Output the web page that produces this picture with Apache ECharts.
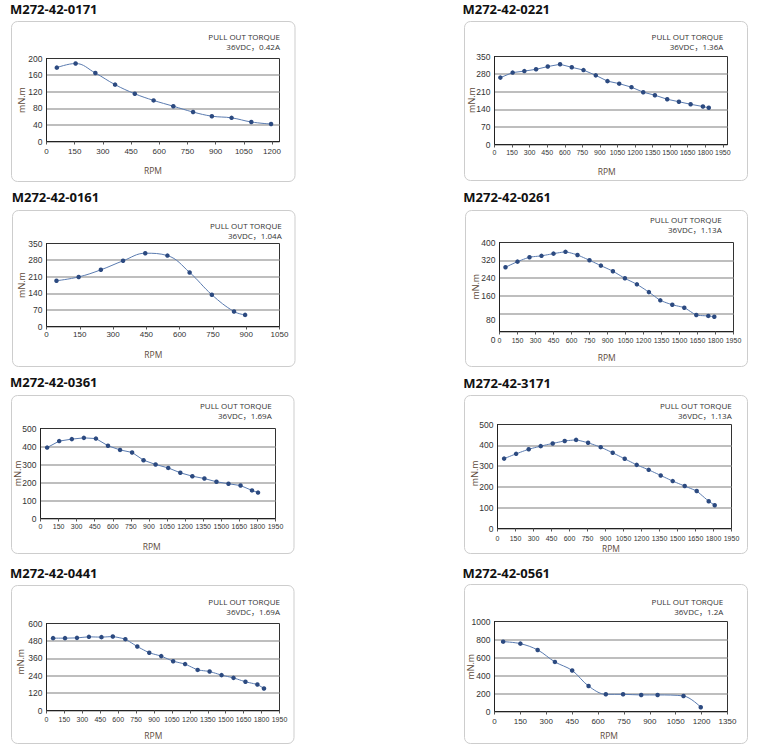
<!DOCTYPE html>
<html>
<head>
<meta charset="utf-8">
<script src="https://cdn.jsdelivr.net/npm/echarts@6/dist/echarts.min.js"></script>
<style>
html, body { margin: 0; padding: 0; background: #fff; }
#main { width: 761px; height: 754px; }
</style>
</head>
<body>
<div id="main"></div>
<script>
// 型号与电流
var models = ['M272-42-0171', 'M272-42-0221', 'M272-42-0161', 'M272-42-0261',
              'M272-42-0361', 'M272-42-3171', 'M272-42-0441', 'M272-42-0561'];
var currents = ['0.42A', '1.36A', '1.04A', '1.13A', '1.69A', '1.13A', '1.69A', '1.2A'];

// 曲线数据 (RPM / mN.m)
var rpm0171 = [55, 155, 260, 365, 470, 570, 675, 780, 880, 985, 1090, 1195];
var torque0171 = [178, 188, 165, 137, 115, 99, 85, 71, 61, 57, 47, 42];

var rpm0221 = [50, 155, 255, 355, 455, 560, 660, 760, 865, 965, 1065, 1170, 1270, 1370, 1475, 1575, 1675, 1780, 1830];
var torque0221 = [266, 286, 292, 299, 310, 319, 307, 296, 275, 252, 242, 228, 208, 196, 180, 170, 160, 151, 146];

var rpm0161 = [45, 145, 245, 345, 445, 545, 645, 745, 845, 895];
var torque0161 = [193, 209, 239, 277, 309, 299, 228, 134, 63, 49];

var rpm0261 = [50, 150, 250, 350, 450, 550, 650, 750, 845, 945, 1045, 1145, 1245, 1340, 1440, 1540, 1640, 1740, 1790];
var torque0261 = [289, 314, 334, 340, 350, 358, 344, 320, 296, 271, 239, 212, 177, 140, 120, 107, 74, 70, 66];

var rpm0361 = [55, 155, 260, 360, 460, 560, 660, 760, 855, 955, 1060, 1160, 1260, 1360, 1460, 1560, 1660, 1755, 1805];
var torque0361 = [394, 430, 441, 448, 444, 404, 381, 367, 324, 300, 281, 254, 235, 222, 204, 193, 183, 156, 144];

var rpm3171 = [55, 155, 260, 360, 460, 560, 655, 755, 860, 960, 1060, 1160, 1260, 1360, 1460, 1560, 1660, 1760, 1810];
var torque3171 = [336, 359, 381, 396, 409, 421, 426, 412, 391, 364, 335, 306, 282, 255, 228, 204, 180, 131, 112];

var rpm0441 = [55, 155, 255, 355, 460, 555, 660, 760, 860, 960, 1060, 1160, 1265, 1365, 1465, 1565, 1665, 1765, 1820];
var torque0441 = [499, 499, 501, 508, 506, 510, 492, 441, 398, 375, 340, 320, 280, 269, 244, 225, 198, 179, 152];

var rpm0561 = [50, 150, 250, 350, 450, 545, 645, 745, 850, 945, 1095, 1195];
var torque0561 = [776, 754, 684, 551, 456, 283, 191, 191, 184, 184, 173, 48];

var rpms = [rpm0171, rpm0221, rpm0161, rpm0261, rpm0361, rpm3171, rpm0441, rpm0561];
var torques = [torque0171, torque0221, torque0161, torque0261, torque0361, torque3171, torque0441, torque0561];

// 坐标轴范围
var xMaxes = [1240, 1990, 1050, 1950, 1950, 1950, 1950, 1350];
var yMaxes = [200, 350, 350, 400, 500, 500, 600, 1000];
var ySteps = [40, 70, 70, 80, 100, 100, 120, 200];

// 布局
var layout = [
    {box: [11.5, 21.5, 295, 181.5], plot: [46.5, 58.5, 279.5, 141.5], title: [10, 8.5], note: [280, 36.7], rpm: [153, 170], unit: [21.7, 100], margin: 6, smooth: 0.4},
    {box: [464.5, 21.5, 747.5, 180.5], plot: [494.5, 56.5, 727.5, 144.5], title: [462.5, 8.5], note: [723.3, 36.7], rpm: [606.7, 171.7], unit: [471.7, 100], margin: 4.5, smooth: false, narrow: true},
    {box: [12.5, 210.5, 295, 366.5], plot: [46.5, 243.5, 279.5, 326.5], title: [11.7, 196.7], note: [281.7, 225], rpm: [153.3, 354.3], unit: [21.7, 285], margin: 4, smooth: 0.4},
    {box: [465.5, 210.5, 747.5, 366.5], plot: [499.5, 242.5, 733.5, 331.5], title: [463.3, 196.7], note: [721.7, 219], rpm: [606.7, 357.7], unit: [475.7, 286.7], margin: 5.5, smooth: 0.15, shiftLow: true, narrow: true},
    {box: [11.5, 395.5, 294, 553.5], plot: [40.5, 428.5, 275.5, 518.5], title: [10, 382.3], note: [271.7, 405], rpm: [151.7, 546], unit: [17.3, 473.3], margin: 4, smooth: false, narrow: true},
    {box: [464.5, 395.5, 747.5, 553.5], plot: [497.5, 424.5, 731.5, 528.5], title: [463.3, 383.3], note: [731.7, 405], rpm: [611, 548.3], unit: [474.3, 473.3], margin: 6.5, smooth: 0.1, narrow: true},
    {box: [11.5, 585.5, 294, 743.5], plot: [46.5, 623.5, 279.5, 710.5], title: [10, 573.3], note: [280, 601.7], rpm: [153.3, 735], unit: [20.7, 661.7], margin: 5, smooth: 0.1, narrow: true},
    {box: [464.5, 584.5, 747.5, 743.5], plot: [494.5, 621.5, 727.5, 711.5], title: [462.5, 573], note: [723.3, 601.7], rpm: [609, 735], unit: [470, 666.7], margin: 6, smooth: 0.35}
];

var labelFont = "'Liberation Sans', Arial, sans-serif";
var textFont = "'Open Sans', 'Noto Sans CJK SC', sans-serif";

function plain(v) {
    return String(v);
}

var option = {
    backgroundColor: '#fff',
    animation: false,
    grid: [], xAxis: [], yAxis: [], series: [], graphic: []
};

layout.forEach(function(L, i) {
    var p = L.plot;
    option.grid.push({
        left: p[0], top: p[1], width: p[2] - p[0], height: p[3] - p[1],
        show: true, borderColor: '#333', borderWidth: 1, backgroundColor: 'transparent'
    });
    option.xAxis.push({
        type: 'value', gridIndex: i, min: 0, max: xMaxes[i], interval: 150,
        axisLine: {show: true, onZero: false, lineStyle: {color: '#222', width: 1}},
        axisTick: {show: true, length: 3, lineStyle: {color: '#555'}},
        splitLine: {show: false},
        axisLabel: {
            margin: L.margin, fontSize: L.narrow ? 7 : 8, color: '#333',
            fontFamily: labelFont, formatter: plain, hideOverlap: false,
            showMaxLabel: xMaxes[i] % 150 === 0
        }
    });
    var yLabel = {margin: 4, fontSize: 8.5, color: '#333', fontFamily: labelFont, formatter: plain};
    if (L.shiftLow) {
        yLabel.formatter = function(v) {
            if (v === 0) return '{z|0}';
            if (v === ySteps[i]) return '{a|' + v + '}';
            return String(v);
        };
        yLabel.rich = {
            z: {padding: [16, 0, 0, 0], fontSize: 8.5, color: '#333', fontFamily: labelFont},
            a: {padding: [12, 0, 0, 0], fontSize: 8.5, color: '#333', fontFamily: labelFont}
        };
    }
    option.yAxis.push({
        type: 'value', gridIndex: i, min: 0, max: yMaxes[i], interval: ySteps[i],
        axisLine: {show: true, lineStyle: {color: '#222', width: 1}},
        axisTick: {show: false},
        splitLine: {show: true, showMaxLine: false, lineStyle: {color: '#a8a8a8', width: 1.5}},
        axisLabel: yLabel
    });
    option.series.push({
        type: 'line', xAxisIndex: i, yAxisIndex: i,
        data: rpms[i].map(function(x, j) { return [x, torques[i][j]]; }),
        smooth: L.smooth,
        symbol: 'circle', symbolSize: 4.5,
        lineStyle: {color: '#5a7bb0', width: 1},
        itemStyle: {color: '#2c4a80'}
    });

    // 外框与文字
    var b = L.box;
    option.graphic.push({
        type: 'rect', z: -10, silent: true,
        shape: {x: b[0], y: b[1], width: b[2] - b[0], height: b[3] - b[1], r: 6},
        style: {fill: 'none', stroke: '#cdcdcd', lineWidth: 1}
    });
    option.graphic.push({
        type: 'text', x: L.title[0], y: L.title[1],
        style: {text: models[i], fill: '#111', font: 'bold 13px ' + textFont, verticalAlign: 'middle', align: 'left'}
    });
    option.graphic.push({
        type: 'text', x: L.note[0], y: L.note[1],
        style: {text: 'PULL OUT TORQUE', fill: '#333', font: '8px ' + textFont, verticalAlign: 'middle', align: 'right'}
    });
    option.graphic.push({
        type: 'text', x: L.note[0], y: L.note[1] + 10,
        style: {text: '36VDC，' + currents[i], fill: '#333', font: '8px ' + textFont, verticalAlign: 'middle', align: 'right'}
    });
    option.graphic.push({
        type: 'text', x: L.rpm[0], y: L.rpm[1],
        style: {text: 'RPM', fill: '#5e4b3c', font: '8.5px ' + textFont, verticalAlign: 'middle', align: 'center'}
    });
    option.graphic.push({
        type: 'text', x: L.unit[0], y: L.unit[1], rotation: Math.PI / 2,
        style: {text: 'mN.m', fill: '#5e4b3c', font: '9px ' + textFont, verticalAlign: 'middle', align: 'center'}
    });
});

echarts.init(document.getElementById('main'), null, {renderer: 'svg'}).setOption(option);
</script>
</body>
</html>
